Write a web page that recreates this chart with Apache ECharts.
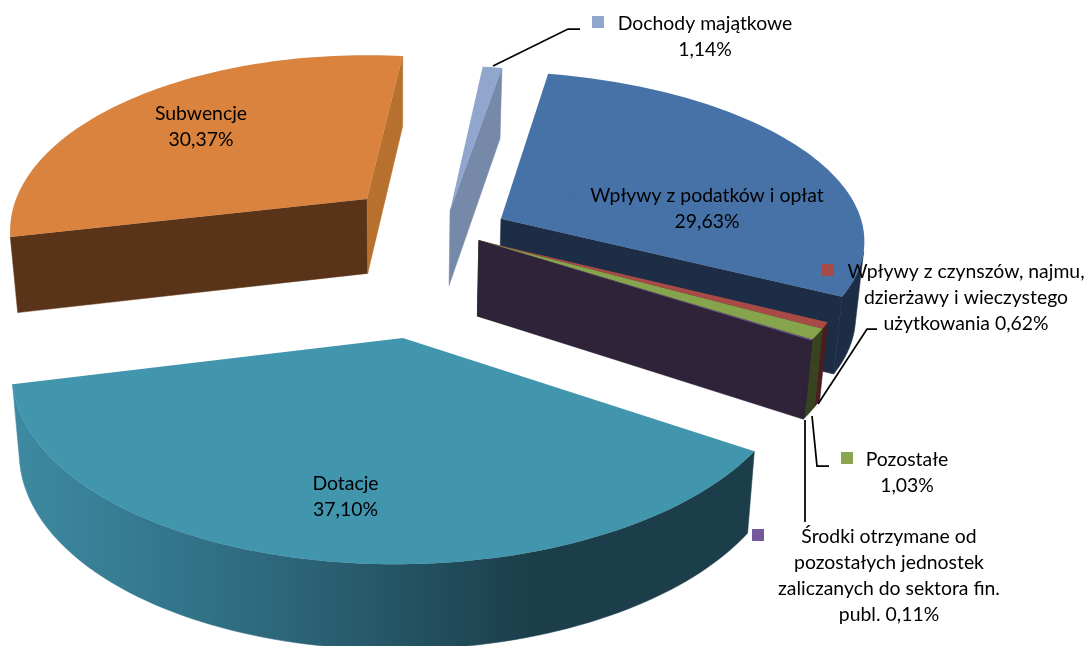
<!DOCTYPE html>
<html><head><meta charset="utf-8">
<style>html,body{margin:0;padding:0;background:#fff}#c{width:1086px;height:646px}</style>
<script src="https://cdn.jsdelivr.net/npm/echarts@6/dist/echarts.min.js"></script>
</head><body><div id="c"></div>
<script>
// --- data ---
const categories = ['Wpływy z podatków i opłat','Wpływy z czynszów, najmu, dzierżawy i wieczystego użytkowania','Pozostałe','Środki otrzymane od pozostałych jednostek zaliczanych do sektora fin. publ.','Dotacje','Subwencje','Dochody majątkowe'];
const values = [29.63,0.62,1.03,0.11,37.10,30.37,1.14];
// --- styles, one per slice ---
const topColors  = ['#4672a8','#a84a46','#86a44c','#6f5592','#4196ae','#d9833e','#90a6cd'];
const sideColors = ['#1d2d45','#4a1e1e','#38441f','#2e2338','#1c3d48','#5a3418','#7789a9'];
const edgeColors = ['#1d2d45','#4a1e1e','#38441f','#2e2338','#1c3d48','#b8702f','#7789a9'];
const keyColors  = ['#4671a7','#a84a46','#8aa650','#75599a','#4095ac','#d98540','#90a6cd'];
// --- pie geometry, one per slice ---
const explode = [0.165,0.106,0.106,0.106,0.641,0.28,0.12];
const sideDrift = [0,0,0,0,3,0,-2];
const radiusX = [360,364,364,364,386,351,333];
const radiusY = [160.7,162.6,162.6,162.6,190,170,178];
const perspective = [0.089,0.164,0.164,0.164,0.16,0.182,0.227];
const shearX = [0.11,0,0,0,0,0,0];
const shearY = [0,0,0,0,-0.01,0,0];
const drawOrder = [5,6,0,1,2,3,4];
const startAngle = 11;           // degrees clockwise from the back
const centre = [445,231], S0 = 376, T0 = 170;
const total = values.reduce((a,b)=>a+b,0);
const rad = d => d*Math.PI/180;
function angles(){ let a=startAngle; return values.map(v=>{const s=a; a+=v/total*360; return [s,a];}); }
const spans = angles();
function apex(i){ const m=rad((spans[i][0]+spans[i][1])/2);
  return [centre[0]+S0*explode[i]*Math.sin(m)+sideDrift[i], centre[1]-T0*explode[i]*Math.cos(m)]; }
function wedgeApex(i){ return apex(i>=1&&i<=3?2:i); }
function rim(i,deg){ const a=wedgeApex(i), x=Math.sin(rad(deg)), y=Math.cos(rad(deg)), w=1+perspective[i]*y;
  const v0=-radiusY[i]*y/w, u0=radiusX[i]*x/w;
  return [a[0]+u0+shearX[i]*v0, a[1]+v0+shearY[i]*u0]; }
function drop(p){ return [p[0]-(p[0]-400)*0.019, p[1]+68.4+0.03*p[1]]; }
function visible(p,q){ const a=p,b=q,c=drop(q),d=drop(p);
  const s=(a[0]*b[1]-b[0]*a[1])+(b[0]*c[1]-c[0]*b[1])+(c[0]*d[1]-d[0]*c[1])+(d[0]*a[1]-a[0]*d[1]); return s<-1e-3; }
function poly(points,fill,line){ return {type:'polygon',shape:{points},style:{fill,stroke:line?fill:null,lineWidth:line?0.5:0}}; }
const frontGradient = {type:'linear',x:10,y:0,x2:530,y2:0,global:true,colorStops:[
  {offset:0,color:'#3d8aa2'},{offset:0.25,color:'#357a90'},{offset:0.5,color:'#2e687c'},{offset:0.75,color:'#245464'},{offset:1,color:'#1c3e4a'}]};
function renderSlice(params){
  const i=drawOrder[params.dataIndex], [s,e]=spans[i], n=Math.max(2,Math.ceil((e-s)/1.5));
  const A=wedgeApex(i), arc=[]; for(let k=0;k<=n;k++) arc.push(rim(i,s+(e-s)*k/n));
  const ch=[];
  if(visible(A,arc[0])) ch.push(poly([A,arc[0],drop(arc[0]),drop(A)],sideColors[i],true));
  if(visible(arc[n],A)) ch.push(poly([arc[n],A,drop(A),drop(arc[n])],edgeColors[i],true));
  let run=[];
  const flush=()=>{ if(run.length>1){ const pts=run.concat(run.slice().reverse().map(drop));
    ch.push(poly(pts,i===4?frontGradient:sideColors[i],true)); } run=[]; };
  for(let k=0;k<n;k++){ if(visible(arc[k],arc[k+1])){ if(!run.length) run.push(arc[k]); run.push(arc[k+1]); } else flush(); }
  flush();
  ch.push(poly([A].concat(arc),topColors[i],false));
  return {type:'group',children:ch};
}
// --- text ---
const font = 'Lato, "Noto Sans", sans-serif';
const labels = [
 ['Dochody majątkowe\n1,14%',705,37],
 ['Wpływy z podatków i opłat\n29,63%',707,209],
 ['Subwencje\n30,37%',201,127],
 ['Dotacje\n37,10%',345.5,497],
 ['Wpływy z czynszów, najmu,\ndzierżawy i wieczystego\nużytkowania 0,62%',966,298],
 ['Pozostałe\n1,03%',907,473],
 ['Środki otrzymane od\npozostałych jednostek\nzaliczanych do sektora fin.\npubl. 0,11%',889,576]
];
const keys = [[6,592,16],[0,568,188],[5,131,106],[4,289,477],[1,822,264],[2,841,452],[3,752,529]];
const leaders = [
 [[493,66],[568,29],[580,29]],
 [[818,404],[867,329],[877,329]],
 [[812,416],[817,466],[829,466]],
 [[805,420],[805,522]]
];
const graphics = [];
leaders.forEach(pts=>graphics.push({type:'polyline',shape:{points:pts},style:{stroke:'#000',lineWidth:1.75,fill:null},z:20}));
keys.forEach(([i,x,y])=>graphics.push({type:'rect',shape:{x,y,width:12,height:12},style:{fill:keyColors[i]},z:21}));
labels.forEach(([t,x,y])=>graphics.push({type:'text',x,y,z:22,style:{text:t,fill:'#000',font:'19.4px '+font,align:'center',verticalAlign:'middle',lineHeight:26}}));
const chart = echarts.init(document.getElementById('c'),null,{renderer:'canvas'});
chart.setOption({
  animation:false,
  backgroundColor:'#fff',
  series:[{type:'custom',coordinateSystem:'none',silent:true,clip:false,
    data:drawOrder.map(i=>({name:categories[i],value:values[i]})),renderItem:renderSlice}],
  graphic:graphics
});
</script></body></html>
